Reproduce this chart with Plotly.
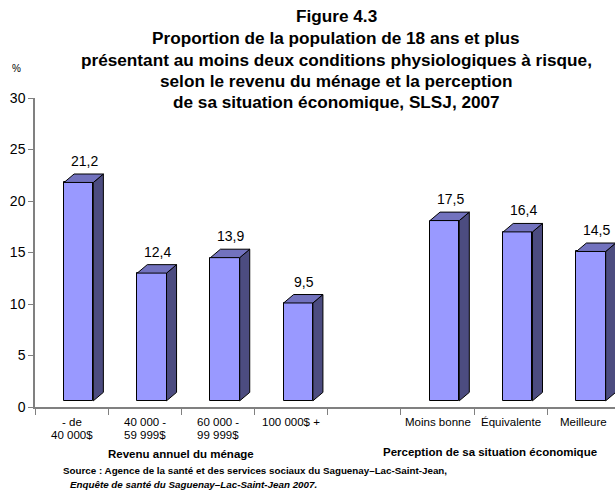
import plotly.graph_objects as go

# données
categories = [["- de", "40 000$"], ["40 000 -", "59 999$"], ["60 000 -", "99 999$"], ["100 000$ +"],
              [], ["Moins bonne"], ["Équivalente"], ["Meilleure"]]
valeurs = [21.2, 12.4, 13.9, 9.5, None, 17.5, 16.4, 14.5]
etiquettes = ["21,2", "12,4", "13,9", "9,5", "", "17,5", "16,4", "14,5"]
y_ticks = [0, 5, 10, 15, 20, 25, 30]

titre = ["Figure 4.3",
         "Proportion de la population de 18 ans et plus",
         "présentant au moins deux conditions physiologiques à risque,",
         "selon le revenu du ménage et la perception",
         "de sa situation économique, SLSJ, 2007"]

# géométrie en pixels de la page (la marge du body est mise à 0 plus bas)
W, H = 615, 493
L, R, T, B = 35, 0, 98, 86
PW, PH = W - L - R, H - T - B

def px_x(x):
    return (x - L) / PW

def px_y(y):
    return (H - B - y) / PH

FONT = "Arial, Liberation Sans, sans-serif"
FRONT, TOP, SIDE = "#9999FF", "#7272BE", "#4C4C80"

# effet 3D
FLOOR = 0.6     # les barres reposent un peu au-dessus de l'axe
OFF = 0.097     # décalage de la face avant
BW = 0.40       # largeur face avant
DX = 0.137      # profondeur horizontale (en catégories)
DY = 0.82       # profondeur verticale (en %)

xs = [i for i, v in enumerate(valeurs) if v is not None]
vs = [v for v in valeurs if v is not None]

fig = go.Figure()
fig.add_trace(go.Bar(
    x=[i + OFF for i in xs], y=vs, base=FLOOR, width=BW,
    marker=dict(color=FRONT, line=dict(color="black", width=1)),
    hoverinfo="skip", showlegend=False))

shapes = []
for i, v in zip(xs, vs):
    xl = i + OFF - BW / 2
    xr = i + OFF + BW / 2
    top = FLOOR + v
    shapes.append(dict(type="path", xref="x", yref="y",
                       path=f"M{xr},{FLOOR} L{xr+DX},{FLOOR+DY} L{xr+DX},{top+DY} L{xr},{top} Z",
                       fillcolor=SIDE, line=dict(color="black", width=1)))
    shapes.append(dict(type="path", xref="x", yref="y",
                       path=f"M{xl},{top} L{xl+DX},{top+DY} L{xr+DX},{top+DY} L{xr},{top} Z",
                       fillcolor=TOP, line=dict(color="black", width=1)))

annotations = []
# valeurs au-dessus des barres
for i, v in enumerate(valeurs):
    if v is None:
        continue
    annotations.append(dict(x=i + OFF + 0.08, y=FLOOR + v + DY, xref="x", yref="y",
                            text=etiquettes[i], showarrow=False, yanchor="bottom", yshift=3,
                            xanchor="center",
                            font=dict(size=14, color="black", family=FONT)))
# étiquettes des catégories (une annotation par ligne, interligne serré)
for i, lignes in enumerate(categories):
    for k, ligne in enumerate(lignes):
        annotations.append(dict(x=i, y=px_y(422.5 + 12.5 * k), xref="x", yref="paper", text=ligne,
                                showarrow=False, yanchor="middle", xanchor="center",
                                font=dict(size=11.5, color="black", family=FONT)))

# titre
title_y = [16, 38, 60, 81, 102]
for txt, ty in zip(titre, title_y):
    annotations.append(dict(x=px_x(336), y=px_y(ty), xref="paper", yref="paper",
                            text=f"<b>{txt}</b>", showarrow=False, yanchor="middle",
                            xanchor="center",
                            font=dict(size=17.2, color="black", family=FONT)))

annotations += [
    dict(x=px_x(16), y=px_y(68), xref="paper", yref="paper", text="%", showarrow=False,
         xanchor="center", yanchor="middle", font=dict(size=10, color="black", family=FONT)),
    dict(x=px_x(181), y=px_y(454), xref="paper", yref="paper",
         text="<b>Revenu annuel du ménage</b>", showarrow=False,
         xanchor="center", yanchor="middle",
         font=dict(size=11.5, color="black", family=FONT)),
    dict(x=px_x(490), y=px_y(452), xref="paper", yref="paper",
         text="<b>Perception de sa situation économique</b>", showarrow=False,
         xanchor="center", yanchor="middle",
         font=dict(size=11.5, color="black", family=FONT)),
    dict(x=px_x(61), y=px_y(470), xref="paper", yref="paper", xanchor="left", yanchor="middle",
         text="<b>Source : Agence de la santé et des services sociaux du Saguenay–Lac-Saint-Jean,</b>",
         showarrow=False, font=dict(size=9.8, color="black", family=FONT)),
    dict(x=px_x(68), y=px_y(484), xref="paper", yref="paper", xanchor="left", yanchor="middle",
         text="<b><i>Enquête de santé du Saguenay–Lac-Saint-Jean 2007.</i></b>",
         showarrow=False, font=dict(size=9.8, color="black", family=FONT)),
]

fig.update_layout(
    width=W, height=H,
    margin=dict(l=L, r=R, t=T, b=B),
    paper_bgcolor="white", plot_bgcolor="white",
    shapes=shapes, annotations=annotations,
    xaxis=dict(range=[-0.5, -0.5 + PW / 73.19], tickvals=[k - 0.5 for k in range(0, 9)],
               ticktext=[""] * 9, ticks="outside", ticklen=6, tickcolor="#808080",
               showline=True, linecolor="#808080", linewidth=1.5, showgrid=False,
               zeroline=False, fixedrange=True),
    yaxis=dict(range=[0, 30], tickvals=y_ticks, ticks="outside", ticklen=5,
               tickcolor="#808080", showline=True, linecolor="#808080", linewidth=1.5,
               showgrid=False, zeroline=False,
               tickfont=dict(size=14, color="black", family=FONT)),
    bargap=0,
)

fig.write_html("out.html", config={"displayModeBar": False},
               post_script="document.body.style.margin='0';document.body.style.overflow='hidden';")
